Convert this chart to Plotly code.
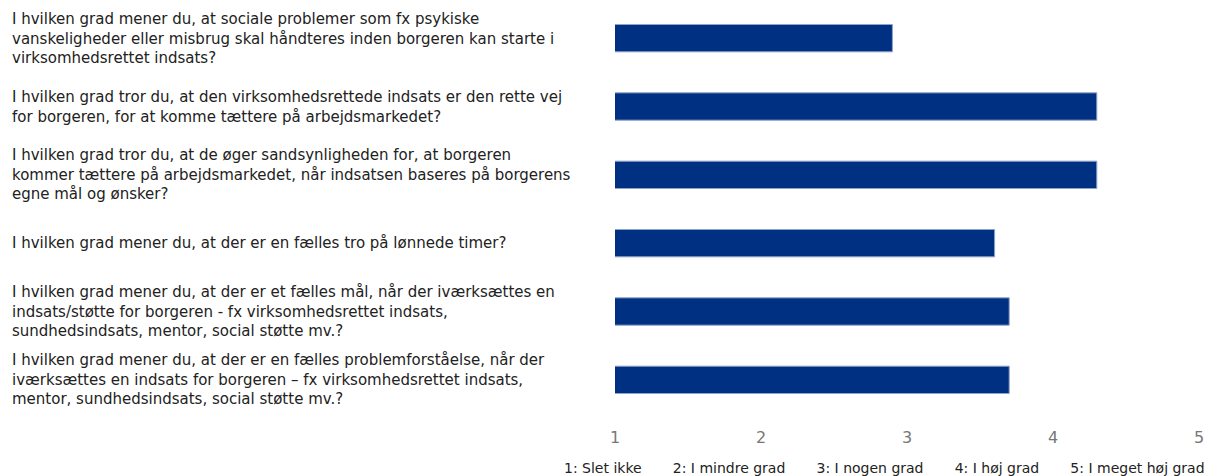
import plotly.graph_objects as go

questions = [
    "I hvilken grad mener du, at sociale problemer som fx psykiske<br>vanskeligheder eller misbrug skal håndteres inden borgeren kan starte i<br>virksomhedsrettet indsats?",
    "I hvilken grad tror du, at den virksomhedsrettede indsats er den rette vej<br>for borgeren, for at komme tættere på arbejdsmarkedet?",
    "I hvilken grad tror du, at de øger sandsynligheden for, at borgeren<br>kommer tættere på arbejdsmarkedet, når indsatsen baseres på borgerens<br>egne mål og ønsker?",
    "I hvilken grad mener du, at der er en fælles tro på lønnede timer?",
    "I hvilken grad mener du, at der er et fælles mål, når der iværksættes en<br>indsats/støtte for borgeren - fx virksomhedsrettet indsats,<br>sundhedsindsats, mentor, social støtte mv.?",
    "I hvilken grad mener du, at der er en fælles problemforståelse, når der<br>iværksættes en indsats for borgeren – fx virksomhedsrettet indsats,<br>mentor, sundhedsindsats, social støtte mv.?",
]
categories = ["q1", "q2", "q3", "q4", "q5", "q6"]
scores = [2.9, 4.3, 4.3, 3.6, 3.7, 3.7]
tick_vals = [1, 2, 3, 4, 5]
scale_labels = ["1: Slet ikke", "2: I mindre grad", "3: I nogen grad", "4: I høj grad", "5: I meget høj grad"]

FONT = "DejaVu Sans"
W, H = 1208, 476
L, R, T, B = 615, 9, 4, 62
plot_w = W - L - R
plot_h = H - T - B

fig = go.Figure(go.Bar(
    x=scores,
    y=categories,
    orientation="h",
    marker=dict(color="#003082", line=dict(color="#8fa3c8", width=1)),
    hoverinfo="x",
))

# question text, left aligned in the left margin
for cat, q in zip(categories, questions):
    fig.add_annotation(
        x=(10 - L) / plot_w, xref="paper", y=cat, yref="y",
        text=q, showarrow=False, xanchor="left", yanchor="middle", align="left",
        font=dict(family=FONT, size=15, color="#222222"),
    )

# scale explanation under the axis
fig.add_annotation(
    x=1.0 + (R - 1) / plot_w, xref="paper", y=-(468 - (H - B)) / plot_h, yref="paper",
    text=("&nbsp;" * 7).join(scale_labels),
    showarrow=False, xanchor="right", yanchor="middle",
    font=dict(family=FONT, size=14, color="#222222"),
)

fig.update_layout(
    width=W, height=H,
    margin=dict(l=L, r=R, t=T, b=B),
    plot_bgcolor="white", paper_bgcolor="white",
    bargap=0.6,
    showlegend=False,
    font=dict(family=FONT),
    xaxis=dict(range=[1, 5], tickvals=tick_vals, showgrid=False, zeroline=False,
               showline=False, ticks="", ticklabelstandoff=12,
               tickfont=dict(size=16, color="#777777")),
    yaxis=dict(autorange="reversed", showticklabels=False, showgrid=False,
               zeroline=False, ticks=""),
)

fig.write_html("out.html", config={"displayModeBar": False},
               post_script="document.body.style.margin='0';")
